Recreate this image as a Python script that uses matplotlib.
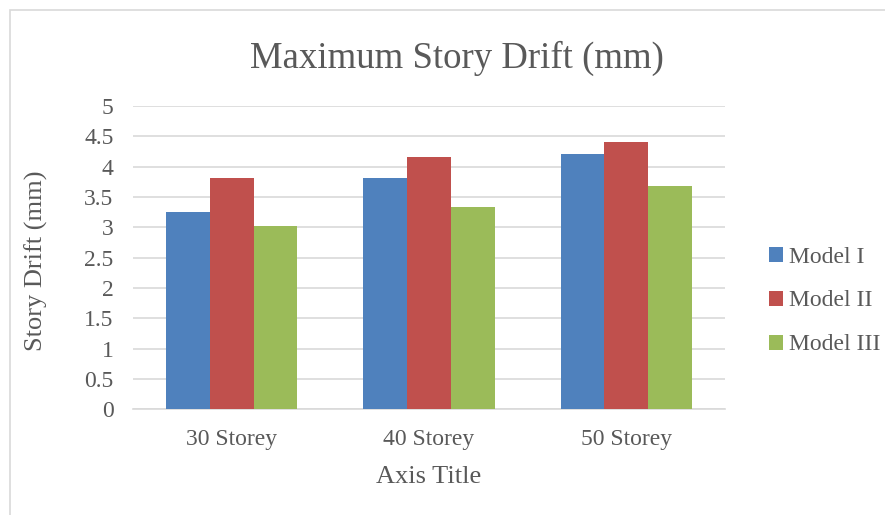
import matplotlib.pyplot as plt
import numpy as np
from matplotlib.patches import Rectangle

# chart data
categories = ['30 Storey', '40 Storey', '50 Storey']
model_1 = [3.26, 3.82, 4.21]
model_2 = [3.82, 4.16, 4.40]
model_3 = [3.02, 3.33, 3.68]
series_names = ['Model I', 'Model II', 'Model III']
yticks = [0, 0.5, 1, 1.5, 2, 2.5, 3, 3.5, 4, 4.5, 5]

colors = ['#4F81BD', '#C0504D', '#9BBB59']
txt = '#595959'
plt.rcParams['font.family'] = ['Liberation Serif', 'DejaVu Serif']

fig = plt.figure(figsize=(8.85, 5.15), dpi=100)
ax = fig.add_axes([133 / 885, 1 - 409.3 / 515, 592 / 885, 303.3 / 515])

# chart area border (only left and top show in the crop)
fig.patches.append(Rectangle((10 / 885, -0.1), 1.2, 1 - 10 / 515 + 0.1,
                             transform=fig.transFigure, fill=False,
                             edgecolor='#D9D9D9', lw=1.2))

x = np.arange(len(categories))
w = 0.222
for i, vals in enumerate([model_1, model_2, model_3]):
    ax.bar(x + (i - 1) * w, vals, width=w, color=colors[i], label=series_names[i], zorder=3)

ax.set_xlim(-0.5, 2.5)
ax.set_ylim(0, 5)
ax.set_yticks(yticks)
ax.set_yticklabels(['0', '0.5', '1', '1.5', '2', '2.5', '3', '3.5', '4', '4.5', '5'])
ax.set_xticks(x)
ax.set_xticklabels(categories)
ax.tick_params(length=0, labelsize=17, colors=txt)
ax.tick_params(axis='x', pad=14)
ax.tick_params(axis='y', pad=14)
ax.yaxis.grid(True, color='#D9D9D9', lw=1.2, zorder=0)
for s in ['top', 'right', 'left']:
    ax.spines[s].set_visible(False)
ax.spines['bottom'].set_color('#D9D9D9')
ax.spines['bottom'].set_linewidth(1.2)

fig.text(457 / 885, 1 - 58 / 515, 'Maximum Story Drift (mm)', ha='center', va='center',
         fontsize=26.5, color=txt)
fig.text(429 / 885, 1 - 477 / 515, 'Axis Title', ha='center', va='center',
         fontsize=19, color=txt)
fig.text(36 / 885, 1 - 261 / 515, 'Story Drift (mm)', ha='center', va='center',
         rotation=90, fontsize=19, color=txt)

leg = fig.legend(loc='center left', bbox_to_anchor=(757 / 885, 1 - 301 / 515),
                 frameon=False, fontsize=17, handlelength=0.6, handleheight=0.6,
                 handletextpad=0.25, labelspacing=0.97, borderpad=0)
for t in leg.get_texts():
    t.set_color(txt)

fig.savefig('out.png', dpi=100)
